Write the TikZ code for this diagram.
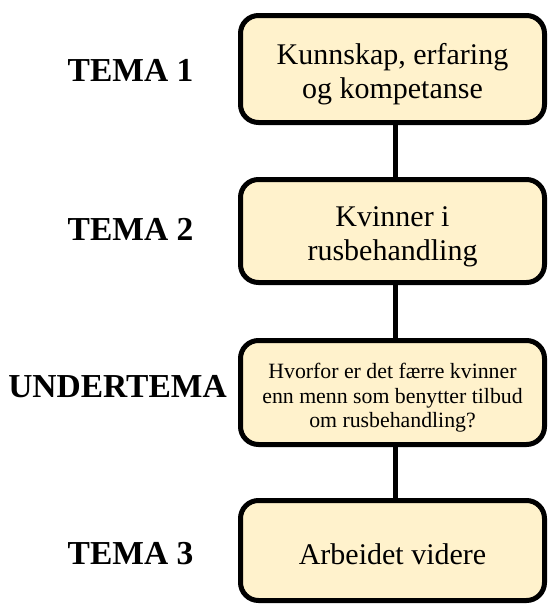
\documentclass[tikz,border=0pt]{standalone}
\usepackage{fontspec}
\setmainfont{Liberation Serif}
\definecolor{boxfill}{HTML}{FFF2CC}
\newcommand\bxtext[2][6pt]{\raisebox{0pt}[\dimexpr\height+#1\relax][\dimexpr\depth-#1\relax]{\begin{tabular}{@{}c@{}}#2\end{tabular}}}
\begin{document}
\begin{tikzpicture}[x=1pt,y=-1pt,
  box/.style={draw=black, line width=5pt, fill=boxfill, rounded corners=18pt,
    minimum width=304pt, align=center, inner sep=0pt},
  bigtext/.style={font=\fontsize{30}{34}\selectfont},
  smalltext/.style={font=\fontsize{21.8}{24.5}\selectfont},
  label/.style={font=\fontsize{33.5}{38}\selectfont\bfseries, inner sep=0pt},
  link/.style={line width=5pt}]
\useasboundingbox (0,0) rectangle (549,605);
\node[box, bigtext, minimum height=107pt] (b1) at (392.5,69) {\bxtext{Kunnskap, erfaring\\og kompetanse}};
\node[box, bigtext, minimum height=103pt] (b2) at (392.5,231) {\bxtext{Kvinner i\\rusbehandling}};
\node[box, smalltext, minimum height=104pt] (b3) at (392.5,392.5) {\bxtext{Hvorfor er det færre kvinner\\enn menn som benytter tilbud\\om rusbehandling?}};
\node[box, bigtext, minimum height=100pt] (b4) at (392.5,550.5) {\bxtext[7pt]{Arbeidet videre}};
\draw[link] ([xshift=3pt]b1.south) -- ([xshift=3pt]b2.north);
\draw[link] ([xshift=3pt]b2.south) -- ([xshift=3pt]b3.north);
\draw[link] ([xshift=3pt]b3.south) -- ([xshift=3pt]b4.north);
\node[label] (l1) at (130.5,70) {TEMA 1};
\node[label] (l2) at (130.5,229) {TEMA 2};
\node[label] (l3) at (117.5,387) {UNDERTEMA};
\node[label] (l4) at (130.5,553.5) {TEMA 3};
\end{tikzpicture}
\end{document}
